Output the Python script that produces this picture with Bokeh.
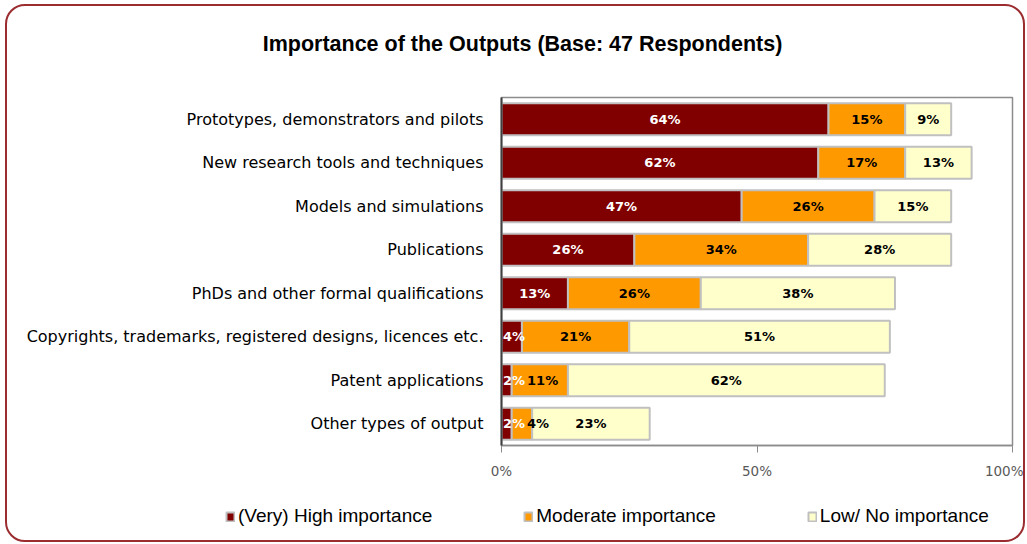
from bokeh.plotting import figure
from bokeh.layouts import column
from bokeh.models import FactorRange, Range1d, FixedTicker, Legend, LegendItem, Label, ColumnDataSource
from bokeh.embed import file_html
from bokeh.resources import INLINE
from bokeh.core.properties import value

# ---------------- data ----------------
title_text = "Importance of the Outputs (Base: 47 Respondents)"
categories = [
    "Prototypes, demonstrators and pilots",
    "New research tools and techniques",
    "Models and simulations",
    "Publications",
    "PhDs and other formal qualifications",
    "Copyrights, trademarks, registered designs, licences etc.",
    "Patent applications",
    "Other types of output",
]
series_names = ["(Very) High importance", "Moderate importance", "Low/ No importance"]
high = [64, 62, 47, 26, 13, 4, 2, 2]
moderate = [15, 17, 26, 34, 26, 21, 11, 4]
low = [9, 13, 15, 28, 38, 51, 62, 23]
tick_values = [0, 50, 100]
tick_labels = ["0%", "50%", "100%"]

# ---------------- style ----------------
colors = ["#800000", "#FF9900", "#FFFFCC"]
label_colors = ["#FFFFFF", "#000000", "#000000"]
outline = "#C0C0C0"

W = 1016
H_TOP, H_MAIN, H_LEG = 60, 424, 50
ML, MR, MT, MB = 494, 11, 31, 45
FRAME_W = W - ML - MR
LABEL_FS = 13
NAN = float("nan")


def blank_fig(h):
    f = figure(width=W, height=h, x_range=Range1d(0, W), y_range=Range1d(0, h),
               min_border=0, x_axis_type=None, y_axis_type=None,
               output_backend="svg", toolbar_location=None, tools="")
    f.outline_line_color = None
    f.border_fill_color = None
    f.background_fill_color = None
    f.xgrid.grid_line_color = None
    f.ygrid.grid_line_color = None
    return f


# ---------------- title strip ----------------
top = blank_fig(H_TOP)
top.add_layout(Label(x=515, y=23, x_units="screen", y_units="screen", text=title_text,
                     text_align="center", text_baseline="middle", text_font="Liberation Sans",
                     text_font_size="21.5px", text_font_style="bold", text_color="#000000"))

# ---------------- main chart ----------------
p = figure(
    width=W, height=H_MAIN,
    y_range=FactorRange(factors=categories[::-1]),
    x_range=Range1d(0, 100),
    min_border_left=ML, min_border_right=MR, min_border_top=MT, min_border_bottom=MB,
    output_backend="svg", toolbar_location=None, tools="",
)
p.border_fill_color = None
p.background_fill_color = "#FFFFFF"
p.outline_line_color = "#8C8C8C"
p.outline_line_width = 1.5
p.xgrid.grid_line_color = None
p.ygrid.grid_line_color = None

series_vals = [high, moderate, low]
lefts = [0.0] * len(categories)
for k, vals in enumerate(series_vals):
    rights = [l + v for l, v in zip(lefts, vals)]
    src = ColumnDataSource(dict(y=categories, left=list(lefts), right=rights))
    p.hbar(y="y", left="left", right="right", height=0.73, source=src,
           fill_color=colors[k], line_color=outline, line_width=2)
    lefts = rights

# data labels: centred in their segment, nudged right so they do not overlap
ppu = FRAME_W / 100.0
def text_w(s):
    return sum(1.002 if ch == "%" else 0.696 for ch in s) * LABEL_FS

lab_x = [[], [], []]
lab_t = [[], [], []]
for i in range(len(categories)):
    left = 0.0
    prev_right = -1e9
    for k, vals in enumerate(series_vals):
        v = vals[i]
        t = f"{v}%"
        half = text_w(t) / 2 / ppu
        c = left + v / 2
        x = max(c, prev_right + half + 2 / ppu)
        if left == 0:
            x = max(x, half + 1.5 / ppu)
        prev_right = x + half
        lab_x[k].append(x)
        lab_t[k].append(t)
        left += v

for k in range(3):
    src = ColumnDataSource(dict(x=lab_x[k], y=categories, t=lab_t[k]))
    p.text(x="x", y="y", text="t", source=src, text_align="center", text_baseline="middle",
           text_color=label_colors[k], text_font=value("DejaVu Sans"),
           text_font_size=f"{LABEL_FS}px", text_font_style="bold")

p.xaxis.ticker = FixedTicker(ticks=tick_values)
p.xaxis.major_label_overrides = {v: l for v, l in zip(tick_values, tick_labels)}
p.xaxis.axis_line_color = "#8C8C8C"
p.xaxis.axis_line_width = 1.5
p.xaxis.major_tick_line_color = "#8C8C8C"
p.xaxis.major_tick_out = 7
p.xaxis.major_tick_in = 0
p.xaxis.minor_tick_line_color = None
p.xaxis.major_label_text_font = "DejaVu Sans"
p.xaxis.major_label_text_font_size = "13.5px"
p.xaxis.major_label_text_color = "#595959"
p.xaxis.major_label_standoff = 10

p.yaxis.axis_line_color = "#404040"
p.yaxis.axis_line_width = 2
p.yaxis.major_tick_line_color = None
p.yaxis.minor_tick_line_color = None
p.yaxis.major_label_text_font = "DejaVu Sans"
p.yaxis.major_label_text_font_size = "16px"
p.yaxis.major_label_text_color = "#000000"
p.yaxis.major_label_standoff = 12

# ---------------- legend strip ----------------
leg = blank_fig(H_LEG)
items = []
for k in range(3):
    # swatch-only renderer: one undrawable (NaN) bar that carries the series style
    swatch = ColumnDataSource(dict(y=[NAN], left=[NAN], right=[NAN]))
    r = leg.hbar(y="y", left="left", right="right", height=1, source=swatch,
                 fill_color=colors[k], line_color=outline, line_width=2)
    items.append(LegendItem(label=series_names[k], renderers=[r], index=0))
lg = Legend(items=items, location=(218, 13), orientation="horizontal",
            glyph_width=10, glyph_height=11, label_standoff=3, padding=0, margin=0,
            spacing=91, border_line_color=None, background_fill_alpha=0,
            label_text_font="Liberation Sans", label_text_font_size="19px",
            label_text_color="#000000", label_height=18)
leg.add_layout(lg, "center")

# nested columns keep the title / legend strips from sharing the chart's frame alignment
layout = column(column(top), p, column(leg), spacing=0,
                styles={"border": "2px solid #9B2C30", "border-radius": "20px",
                        "margin": "4px 0px 0px 5px"})

open("out.html", "w").write(file_html(layout, INLINE))
